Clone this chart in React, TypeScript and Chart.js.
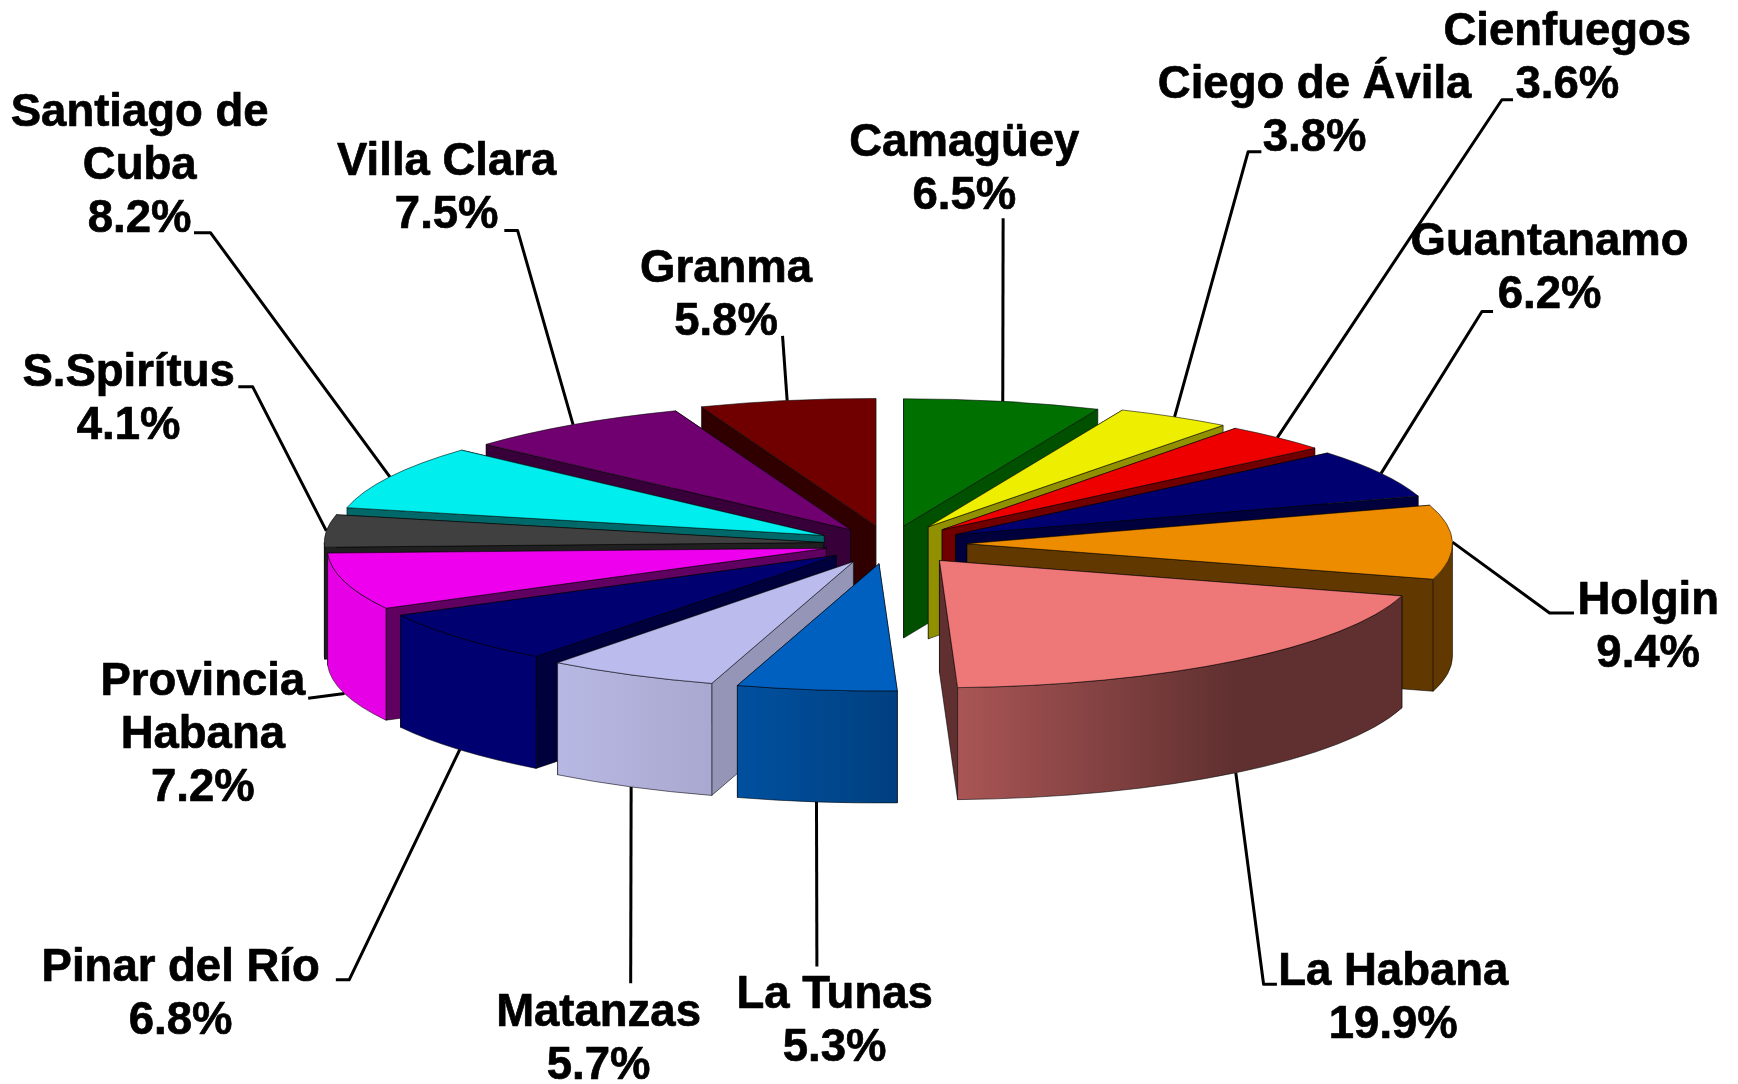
import React, { useEffect, useRef } from "react";
import { Chart, registerables } from "chart.js";

Chart.register(...registerables);

const categories = ["Camagüey", "Ciego de Ávila", "Cienfuegos", "Guantanamo", "Holgin", "La Habana", "La Tunas", "Matanzas", "Pinar del Río", "Provincia Habana", "S.Spirítus", "Santiago de Cuba", "Villa Clara", "Granma"];
const shares = [6.5, 3.8, 3.6, 6.2, 9.4, 19.9, 5.3, 5.7, 6.8, 7.2, 4.1, 8.2, 7.5, 5.8];
const explode = [72, 78, 77, 76, 78, 82, 78, 78, 69, 65, 66, 73, 68, 73];
const rimScale = [0.98, 0.98, 0.975, 0.973, 0.973, 0.965, 0.975, 0.975, 0.99, 1, 1, 0.98, 0.985, 0.98];
const topColors = ["#007000", "#eeee00", "#ee0000", "#000070", "#ee8c00", "#ee7777", "#0060c0", "#bbbbee", "#000070", "#ee00ee", "#404040", "#00eeee", "#700070", "#700000"];
const sideColors = ["#005000", "#909000", "#700000", "#00003c", "#603800", "#603030", "#004080", "#9595b8", "#00003c", "#600060", "#202020", "#006868", "#380038", "#300000"];
const wallFrom = ["#005000", "#909000", "#700000", "#00003c", "#603800", "#aa5555", "#00509f", "#b8b8e4", "#000070", "#e600e6", "#202020", "#006868", "#380038", "#300000"];
const wallTo = ["#005000", "#909000", "#700000", "#00003c", "#603800", "#603030", "#004080", "#a8a8d0", "#000070", "#e600e6", "#202020", "#006868", "#380038", "#300000"];

const labelLines = [["Camagüey"], ["Ciego de Ávila"], ["Cienfuegos"], ["Guantanamo"], ["Holgin"], ["La Habana"], ["La Tunas"], ["Matanzas"], ["Pinar del Río"], ["Provincia", "Habana"], ["S.Spirítus"], ["Santiago de", "Cuba"], ["Villa Clara"], ["Granma"]];

// Label layout, measured on the 1568-wide view of the picture: [centre x, first line y]
const K = 1738 / 1568;
const labelAt = [[870, 129], [1186, 77], [1414, 29], [1398, 219], [1487, 543], [1257, 877], [753, 898], [540, 914], [163, 874], [183, 616], [116, 337], [126, 102], [403, 147], [655, 243]];
const leaderBends = [
  [[905, 197]],
  [[1126, 137], [1138, 137]],
  [[1355, 90], [1365, 90]],
  [[1337, 281], [1347, 281]],
  [[1398, 553], [1420, 553]],
  [[1140, 888], [1152, 888]],
  [[737, 872]],
  [[569, 887]],
  [[315, 884], [303, 884]],
  [[278, 630]],
  [[228, 349], [215, 349]],
  [[190, 210], [175, 210]],
  [[467, 208], [455, 208]],
  [[706, 303]],
];

const SQUASH = 0.255;
const DEPTH = 112;
const FONT = 'bold 45.5px "Liberation Sans", Arial, sans-serif';
const LINE_H = 53;

const pie3d = {
  id: "pie3d",
  beforeDatasetsDraw(chart: any) {
    const ctx: CanvasRenderingContext2D = chart.ctx;
    const arcs = chart.getDatasetMeta(0).data;
    const geo = arcs.map((arc: any, i: number) => {
      const p = arc.getProps(["x", "y", "startAngle", "endAngle", "outerRadius"], true);
      const mid = (p.startAngle + p.endAngle) / 2;
      const off = arc.options.offset || 0;
      return {
        i, mid,
        a0: p.startAngle, a1: p.endAngle, R: p.outerRadius * rimScale[i],
        Ry: p.outerRadius * SQUASH,
        cx: p.x + Math.cos(mid) * off,
        cy: p.y + Math.sin(mid) * off * SQUASH,
        color: arc.options.backgroundColor,
      };
    });

    // leader lines
    ctx.save();
    ctx.strokeStyle = "#000";
    ctx.lineWidth = 3;
    ctx.lineJoin = "round";
    geo.forEach((g: any) => {
      const sx = g.cx + g.R * Math.cos(g.mid);
      const sy = g.cy + g.Ry * Math.sin(g.mid) + (Math.sin(g.mid) > 0 ? DEPTH : 0);
      ctx.beginPath();
      ctx.moveTo(sx, sy);
      leaderBends[g.i].forEach((b) => ctx.lineTo(b[0] * K, b[1] * K));
      ctx.stroke();
    });
    ctx.restore();

    // slices, back to front
    const ordered = [...geo].sort((a: any, b: any) => Math.sin(a.mid) - Math.sin(b.mid));
    ordered.forEach((g: any) => {
      const edge = "rgba(0,0,0,0.55)";
      ctx.lineWidth = 1;
      ctx.lineJoin = "round";
      const radial = (a: number) => {
        const x = g.cx + g.R * Math.cos(a);
        const y = g.cy + g.Ry * Math.sin(a);
        ctx.beginPath();
        ctx.moveTo(g.cx, g.cy);
        ctx.lineTo(x, y);
        ctx.lineTo(x, y + DEPTH);
        ctx.lineTo(g.cx, g.cy + DEPTH);
        ctx.closePath();
        ctx.fillStyle = sideColors[g.i];
        ctx.fill();
        ctx.strokeStyle = edge;
        ctx.stroke();
      };
      // facing test for the two cut faces: back-facing first
      const startFront = -Math.cos(g.a0) > 0;
      const endFront = Math.cos(g.a1) > 0;
      if (!startFront) radial(g.a0);
      if (!endFront) radial(g.a1);
      if (startFront) radial(g.a0);
      if (endFront) radial(g.a1);

      // outer wall, front half only
      const w0 = Math.max(g.a0, 0);
      const w1 = Math.min(g.a1, Math.PI);
      if (w1 > w0) {
        const x0 = g.cx + g.R * Math.cos(w0);
        const x1 = g.cx + g.R * Math.cos(w1);
        const grad = ctx.createLinearGradient(x1, 0, x0, 0);
        grad.addColorStop(0, wallFrom[g.i]);
        grad.addColorStop(g.i === 5 ? 0.62 : 1, wallTo[g.i]);
        grad.addColorStop(1, wallTo[g.i]);
        ctx.beginPath();
        ctx.ellipse(g.cx, g.cy, g.R, g.Ry, 0, w0, w1);
        ctx.ellipse(g.cx, g.cy + DEPTH, g.R, g.Ry, 0, w1, w0, true);
        ctx.closePath();
        ctx.fillStyle = grad;
        ctx.fill();
        ctx.strokeStyle = edge;
        ctx.stroke();
      }

      // top face
      ctx.beginPath();
      ctx.moveTo(g.cx, g.cy);
      ctx.ellipse(g.cx, g.cy, g.R, g.Ry, 0, g.a0, g.a1);
      ctx.closePath();
      ctx.fillStyle = g.color;
      ctx.fill();
      ctx.strokeStyle = edge;
      ctx.stroke();
    });

    // labels
    ctx.save();
    ctx.fillStyle = "#000";
    ctx.strokeStyle = "#000";
    ctx.lineWidth = 0.7;
    ctx.font = FONT;
    ctx.textAlign = "center";
    ctx.textBaseline = "middle";
    geo.forEach((g: any) => {
      const [x, y] = labelAt[g.i];
      const lines = [...labelLines[g.i], `${shares[g.i].toFixed(1)}%`];
      lines.forEach((t, n) => {
        ctx.fillText(t, x * K, y * K + n * LINE_H);
        ctx.strokeText(t, x * K, y * K + n * LINE_H);
      });
    });
    ctx.restore();
    return false;
  },
};

export default function App() {
  const ref = useRef<HTMLCanvasElement>(null);
  useEffect(() => {
    const chart = new Chart(ref.current as HTMLCanvasElement, {
      type: "pie",
      data: {
        labels: categories,
        datasets: [{ data: shares, backgroundColor: topColors, offset: explode, borderWidth: 0 }],
      },
      options: {
        animation: false,
        responsive: false,
        radius: 499,
        layout: { padding: { left: 40, top: 4 } },
        plugins: { legend: { display: false }, tooltip: { enabled: false } },
      } as any,
      plugins: [pie3d as any],
    });
    return () => chart.destroy();
  }, []);
  return (
    <div style={{ position: "absolute", left: 0, top: 0, width: 1738, height: 1084, background: "#fff" }}>
      <canvas ref={ref} width={1738} height={1084} style={{ display: "block", filter: "blur(0.6px)" }} />
    </div>
  );
}
